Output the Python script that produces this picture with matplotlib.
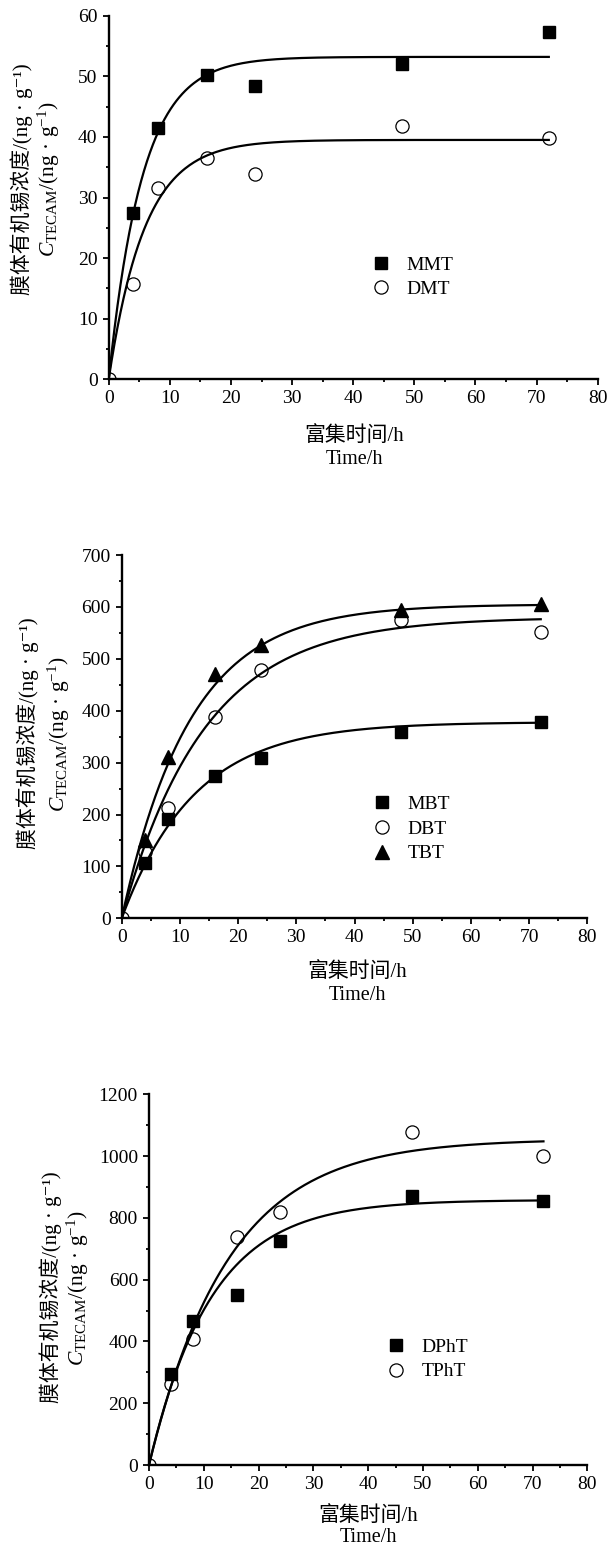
import numpy as np
import matplotlib
matplotlib.use("Agg")
import matplotlib.pyplot as plt
from matplotlib.ticker import MultipleLocator

plt.rcParams['font.family'] = ['Liberation Serif', 'Noto Sans CJK SC', 'DejaVu Serif']
plt.rcParams['mathtext.fontset'] = 'custom'
plt.rcParams['mathtext.rm'] = 'Liberation Serif'
plt.rcParams['mathtext.it'] = 'Liberation Serif:italic'

# sampling times (h)
t = [4, 8, 16, 24, 48, 72]
t0 = [0, 4, 8, 16, 24, 48, 72]

# panel 1: methyltins
mmt = [27.4, 41.4, 50.2, 48.4, 52.0, 57.3]
dmt = [0, 15.8, 31.5, 36.5, 33.9, 41.8, 39.8]
# panel 2: butyltins
mbt = [106, 191, 274, 308, 358, 378]
dbt = [0, 128, 212, 387, 478, 575, 552]
tbt = [151, 311, 471, 527, 594, 605]
# panel 3: phenyltins
dpht = [295, 467, 550, 726, 872, 853]
tpht = [0, 262, 407, 739, 820, 1077, 999]

# first-order uptake fits C = Cmax * (1 - exp(-k t)), (Cmax, k)
mmt_fit = (53.2, 0.18)
dmt_fit = (39.5, 0.17)
mbt_fit = (378, 0.08)
dbt_fit = (580, 0.07)
tbt_fit = (605, 0.085)
dpht_fit = (858, 0.088)
tpht_fit = (1055, 0.069)

ylabel1 = "膜体有机锡浓度/(ng · g⁻¹)"
ylabel2 = r"$C_{\mathrm{TECAM}}$/(ng · g$^{-1}$)"
xlabel1 = "富集时间/h"
xlabel2 = "Time/h"

W, H = 608, 1548
fig = plt.figure(figsize=(W / 100, H / 100), dpi=100)


def px_axes(left, top, right, bottom):
    return fig.add_axes([left / W, 1 - bottom / H, (right - left) / W, (bottom - top) / H])


def fit_curve(ax, p):
    tt = np.linspace(0, 72, 300)
    ax.plot(tt, p[0] * (1 - np.exp(-p[1] * tt)), color='black', lw=1.6, zorder=2)


def style(ax, ymax, major, minor):
    ax.set_xlim(0, 80)
    ax.set_ylim(0, ymax)
    ax.xaxis.set_major_locator(MultipleLocator(10))
    ax.xaxis.set_minor_locator(MultipleLocator(5))
    ax.yaxis.set_major_locator(MultipleLocator(major))
    ax.yaxis.set_minor_locator(MultipleLocator(minor))
    for s in ['top', 'right']:
        ax.spines[s].set_visible(False)
    for s in ['left', 'bottom']:
        ax.spines[s].set_linewidth(1.7)
    ax.tick_params(which='major', direction='out', length=4.5, width=1.3, labelsize=14, pad=3.5)
    ax.tick_params(which='minor', direction='out', length=2.4, width=1.3)


def labels(ax, y1dx, y2dx, ydy, x1dy, x2dy, xc=0.5):
    # offsets are in pixels
    k = 0.72
    ax.annotate(ylabel1, xy=(0, 0.5), xycoords='axes fraction', xytext=(y1dx * k, ydy * k),
                textcoords='offset points', rotation=90, ha='center', va='center', fontsize=15)
    ax.annotate(ylabel2, xy=(0, 0.5), xycoords='axes fraction', xytext=(y2dx * k, ydy * k),
                textcoords='offset points', rotation=90, ha='center', va='center', fontsize=15.5)
    ax.annotate(xlabel1, xy=(xc, 0), xycoords='axes fraction', xytext=(0, x1dy * k),
                textcoords='offset points', ha='center', va='center', fontsize=15)
    ax.annotate(xlabel2, xy=(xc, 0), xycoords='axes fraction', xytext=(0, x2dy * k),
                textcoords='offset points', ha='center', va='center', fontsize=14.5)


sq = dict(marker='s', ms=9, color='black', ls='none', zorder=3)
ci = dict(marker='o', ms=9.5, mfc='none', mec='black', mew=0.9, ls='none', zorder=3)
tr = dict(marker='^', ms=10, color='black', ls='none', zorder=3)
leg_kw = dict(loc='center left', frameon=False, borderpad=0, handlelength=1.0,
              handletextpad=0.8, labelspacing=0.36, fontsize=14, numpoints=1)

# --- panel 1 ---
ax1 = px_axes(108.7, 15.7, 597.7, 379.3)
fit_curve(ax1, mmt_fit)
fit_curve(ax1, dmt_fit)
ax1.plot(t, mmt, label='MMT', **sq)
ax1.plot(t0, dmt, label='DMT', **ci)
style(ax1, 60, 10, 5)
ax1.legend(bbox_to_anchor=(0.518, 0.281), **leg_kw)
labels(ax1, -86.7, -59.7, 18, -56.7, -80.7, 0.502)

# --- panel 2 ---
ax2 = px_axes(121.7, 555, 587.3, 918.3)
fit_curve(ax2, mbt_fit)
fit_curve(ax2, dbt_fit)
fit_curve(ax2, tbt_fit)
ax2.plot(t, mbt, label='MBT', **sq)
ax2.plot(t0, dbt, label='DBT', **ci)
ax2.plot(t, tbt, label='TBT', **tr)
style(ax2, 700, 100, 50)
ax2.legend(bbox_to_anchor=(0.518, 0.246), **leg_kw)
labels(ax2, -93.7, -62.7, 3, -53.7, -77.7, 0.506)

# --- panel 3 ---
ax3 = px_axes(149, 1094.3, 587.3, 1465)
fit_curve(ax3, dpht_fit)
fit_curve(ax3, tpht_fit)
ax3.plot(t, dpht, label='DPhT', **sq)
ax3.plot(t0, tpht, label='TPhT', **ci)
style(ax3, 1200, 200, 100)
ax3.legend(bbox_to_anchor=(0.52, 0.285), **leg_kw)
labels(ax3, -98, -71, -8, -51, -73, 0.5)

fig.savefig("out.png", dpi=100)
